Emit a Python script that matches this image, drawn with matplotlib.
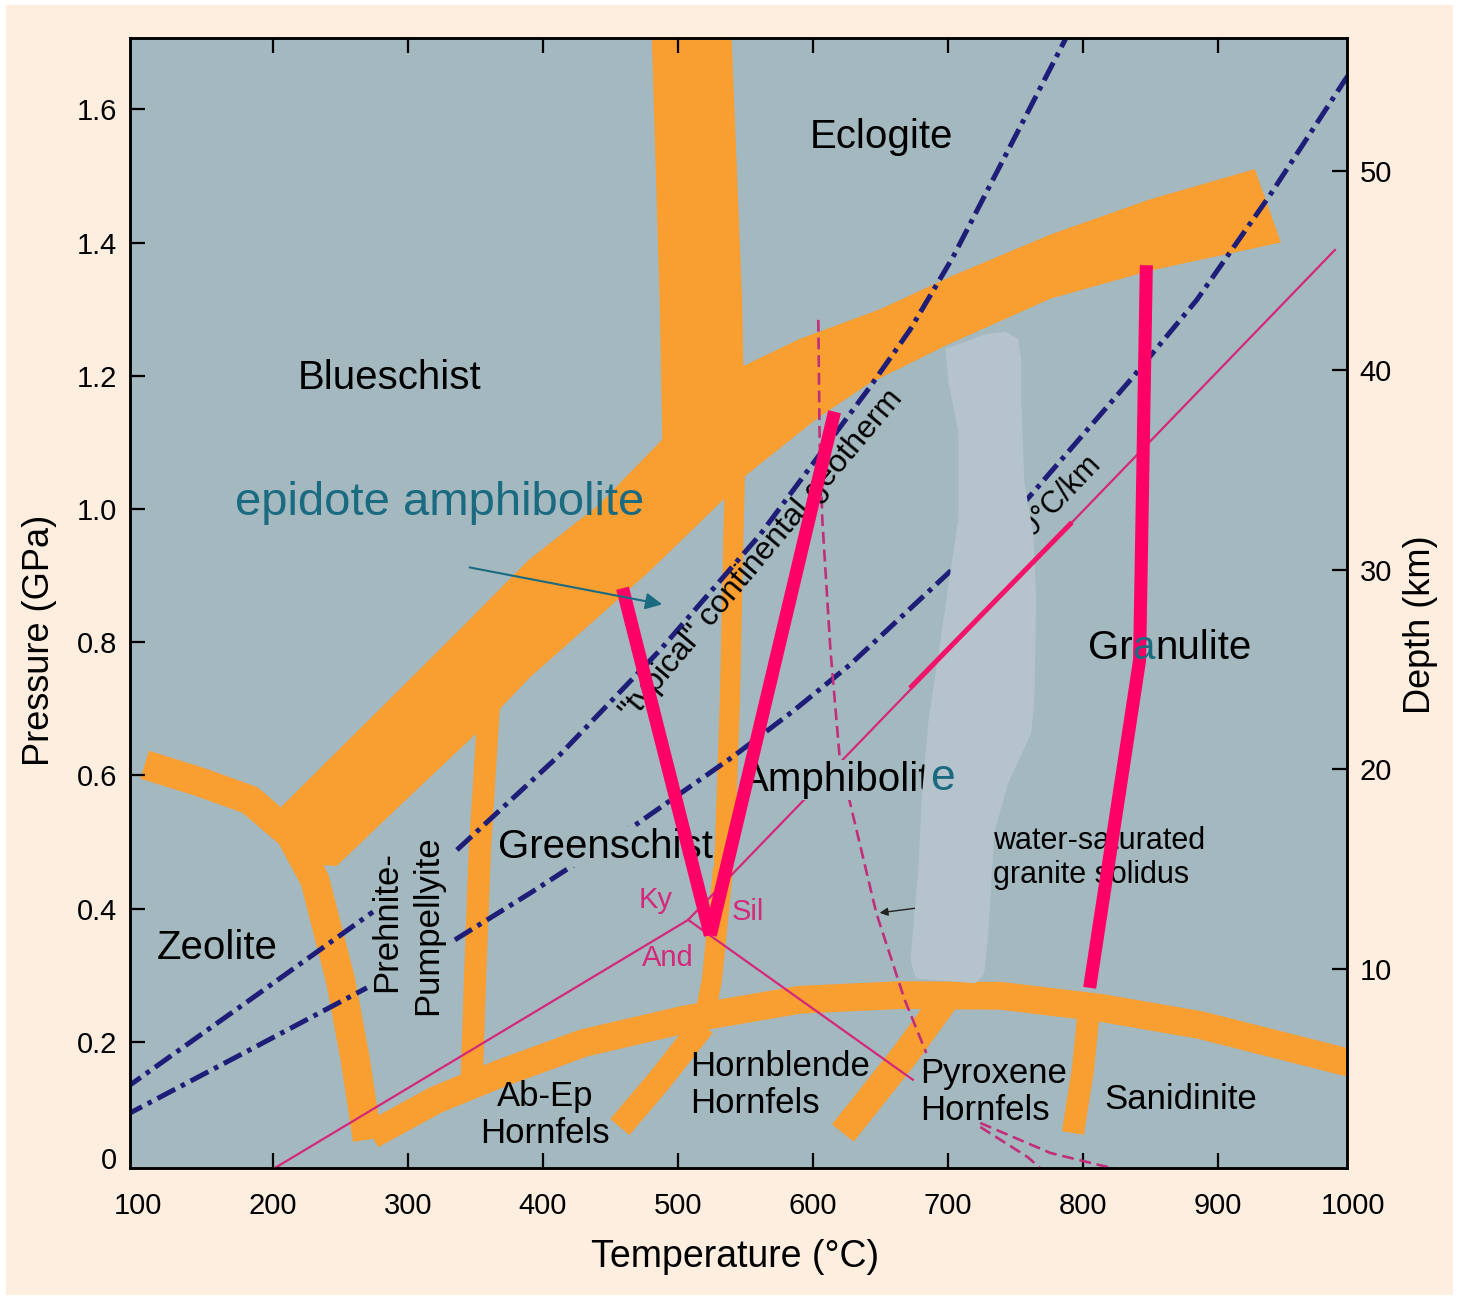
import matplotlib.pyplot as plt
from matplotlib.patches import Polygon, Rectangle
import numpy as np

plt.rcParams['font.family'] = ['Liberation Sans', 'DejaVu Sans']

bg = '#a4b8c0'
orange = '#f99e30'
navy = '#1e1e78'
pink = '#d4287a'
hot = '#ff0066'
teal = '#1b6b80'
haze = '#b5c3cc'

# ---- facies boundary bands (T in C, P in GPa) ----
# big blueschist / eclogite band, outline
main_T = [207, 294, 341, 390, 442, 489, 487, 481, 539, 547, 548, 590, 650, 701, 776, 850, 927,
          946, 850, 776, 701, 641, 603, 548, 533, 479, 442, 390, 351, 294, 247, 222]
main_P = [0.553, 0.728, 0.823, 0.923, 1.006, 1.104, 1.314, 1.72, 1.72, 1.314, 1.213, 1.254, 1.299,
          1.347, 1.411, 1.464, 1.509, 1.401, 1.359, 1.317, 1.249, 1.189, 1.137, 1.048, 1.014,
          0.908, 0.841, 0.748, 0.665, 0.556, 0.465, 0.468]

zeo_T = [105, 146, 183, 213, 231, 250, 261, 270]
zeo_P = [0.616, 0.590, 0.563, 0.511, 0.443, 0.293, 0.173, 0.053]

horn_T = [273, 321, 368, 430, 504, 590, 664, 739, 813, 887, 994, 1012]
horn_P = [0.060, 0.113, 0.152, 0.198, 0.233, 0.263, 0.270, 0.269, 0.251, 0.225, 0.170, 0.161]

pp_T = [360.7, 353.3, 349.6, 347.4]
pp_P = [0.728, 0.488, 0.288, 0.150]

gs_T = [542.2, 538.5, 534.8, 525.2, 518.5]
gs_P = [1.059, 0.713, 0.488, 0.293, 0.225]

abep_T = [518.5, 486.7, 457.0]
abep_P = [0.225, 0.143, 0.072]

hbl_T = [697.8, 668.1, 622.2]
hbl_P = [0.263, 0.180, 0.063]

px_T = [805.2, 800.0, 792.6]
px_P = [0.263, 0.158, 0.063]

# ---- geotherms ----
geoA_T1 = [90, 94.1, 183.0, 274.1]
geoA_P1 = [0.129, 0.135, 0.263, 0.395]
geoA_T2 = [336.3, 412.6, 486.7, 560.7, 642.2, 671.9, 703.7, 786.7, 790.4]
geoA_P2 = [0.488, 0.631, 0.788, 0.961, 1.183, 1.269, 1.378, 1.704, 1.727]

geoB_T1 = [90, 94.1, 183.0, 269.6]
geoB_P1 = [0.088, 0.093, 0.188, 0.281]
geoB_T2 = [334.8, 390.4, 466.7, 540.7, 585.0, 627.4, 701.5, 758.5, 837.0, 884.4, 938.5, 994.1, 1002]
geoB_P2 = [0.353, 0.423, 0.523, 0.628, 0.696, 0.766, 0.906, 1.014, 1.198, 1.314, 1.471, 1.644, 1.667]

# ---- Al2SiO5 triple point ----
ky_sil_T = [507.6, 986.7]
ky_sil_P = [0.383, 1.389]
ky_and_T = [507.6, 201.5]
ky_and_P = [0.383, 0.0105]
and_sil_T = [507.6, 674.0]
and_sil_P = [0.383, 0.143]

# water-saturated granite solidus
sol_T1 = [604, 605, 607, 613, 620, 627, 647, 668, 684]
sol_P1 = [1.284, 1.104, 0.983, 0.788, 0.623, 0.563, 0.393, 0.263, 0.183]
sol_T2 = [724, 759, 768]
sol_P2 = [0.072, 0.027, 0.011]
sol_T3 = [724, 776, 820]
sol_P3 = [0.078, 0.033, 0.011]

# hand-drawn marks
vee_left_T, vee_left_P = [459, 524], [0.881, 0.360]
vee_right_T, vee_right_P = [524, 616], [0.360, 1.146]
gran_T, gran_P = [847, 842, 805], [1.366, 0.773, 0.281]
kysil_hi_T, kysil_hi_P = [671.9, 791.9], [0.731, 0.980]

haze_T = [699.3, 708.9, 727.4, 742.2, 751.1, 753.3, 753.3, 755.6, 762.2, 764.4, 763.0, 760.7,
          743.7, 733.3, 728.9, 725.9, 720.0, 677.0, 673.3, 679.3, 681.5, 686.7, 696.3, 708.9,
          708.9, 701.5]
haze_P = [1.239, 1.246, 1.260, 1.264, 1.254, 1.224, 1.164, 1.039, 0.964, 0.863, 0.713, 0.664,
          0.589, 0.514, 0.363, 0.303, 0.290, 0.297, 0.323, 0.462, 0.563, 0.683, 0.814, 0.988,
          1.114, 1.189]

x_ticks = [200, 300, 400, 500, 600, 700, 800, 900]
p_ticks = [0.2, 0.4, 0.6, 0.8, 1.0, 1.2, 1.4, 1.6]
p_labels = ['0.2', '0.4', '0.6', '0.8', '1.0', '1.2', '1.4', '1.6']
depth_ticks = [10, 20, 30, 40, 50]

fig = plt.figure(figsize=(14.62, 12.97), dpi=100)
fig.patch.set_facecolor('white')
fig.patches.append(Rectangle((0.004, 0.0015), 0.99, 0.9946, transform=fig.transFigure,
                             facecolor='#fdeee0', edgecolor='none', zorder=-10))

ax = fig.add_axes([0.0889, 0.0995, 0.8324, 0.8712])
ax.set_facecolor(bg)
ax.set_xlim(94.1, 995.6)
ax.set_ylim(0.0105, 1.7072)

# bands
ax.add_patch(Polygon(np.column_stack([main_T, main_P]), closed=True, fc=orange, ec=orange,
                     lw=1, zorder=1))


def band(T, P, w):
    ax.plot(T, P, color=orange, lw=w, solid_capstyle='butt', solid_joinstyle='round', zorder=1)


band(zeo_T, zeo_P, 21)
band(horn_T, horn_P, 20)
band(pp_T, pp_P, 16)
band(gs_T, gs_P, 14.5)
band(abep_T, abep_P, 18)
band(hbl_T, hbl_P, 20)
band(px_T, px_P, 16)

# geotherms
dd = (4, 1.3, 0.9, 1.3)
for T, P in [(geoA_T1, geoA_P1), (geoA_T2, geoA_P2), (geoB_T1, geoB_P1), (geoB_T2, geoB_P2)]:
    ax.plot(T, P, color=navy, lw=3.6, dashes=dd, zorder=3)

# aluminosilicate lines
for T, P in [(ky_sil_T, ky_sil_P), (ky_and_T, ky_and_P), (and_sil_T, and_sil_P)]:
    ax.plot(T, P, color=pink, lw=1.6, zorder=3)

for T, P in [(sol_T1, sol_P1), (sol_T2, sol_P2), (sol_T3, sol_P3)]:
    ax.plot(T, P, color='#c0307a', lw=1.9, dashes=(4.5, 2.2), zorder=3)

# labels
big = 29
mid = 25
ax.text(651, 1.559, 'Eclogite', fontsize=big, ha='center', va='center', zorder=4)
ax.text(286.7, 1.197, 'Blueschist', fontsize=big, ha='center', va='center', zorder=4)
ax.text(159, 0.341, 'Zeolite', fontsize=big, ha='center', va='center', zorder=4)
ax.text(446, 0.492, 'Greenschist', fontsize=big, ha='center', va='center', zorder=4,
        bbox=dict(boxstyle='square,pad=0.03', fc=bg, ec='none'))
t_amph = ax.text(547.4, 0.593, 'Amphibolit', fontsize=big, ha='left', va='center', zorder=4,
                 bbox=dict(boxstyle='square,pad=0.03', fc=bg, ec='none'))
t_gr = ax.text(803.7, 0.791, 'Gr', fontsize=big, ha='left', va='center', zorder=4)
t_a = ax.annotate('a', xy=(1, 0), xycoords=t_gr, ha='left', va='bottom', fontsize=big,
                  color=teal, zorder=8)
ax.annotate('nulite', xy=(1, 0), xycoords=t_a, ha='left', va='bottom', fontsize=big, zorder=4)

ax.text(284.4, 0.380, 'Prehnite-', fontsize=mid, rotation=90, ha='center', va='center', zorder=4)
ax.text(314.8, 0.375, 'Pumpellyite', fontsize=mid, rotation=90, ha='center', va='center', zorder=4)
ax.text(401.5, 0.090, 'Ab-Ep\nHornfels', fontsize=mid, ha='center', va='center',
        multialignment='center', linespacing=1.15, zorder=4)
ax.text(508.9, 0.135, 'Hornblende\nHornfels', fontsize=mid, ha='left', va='center',
        linespacing=1.15, zorder=4)
ax.text(679.3, 0.125, 'Pyroxene\nHornfels', fontsize=mid, ha='left', va='center',
        linespacing=1.15, zorder=4)
ax.text(872.6, 0.113, 'Sanidinite', fontsize=mid, ha='center', va='center', zorder=4)
ax.text(733.3, 0.476, 'water-saturated\ngranite solidus', fontsize=22, ha='left', va='center',
        linespacing=1.18, zorder=4)

ax.text(483.7, 0.413, 'Ky', fontsize=21, color=pink, ha='center', va='center', zorder=4)
ax.text(551.9, 0.395, 'Sil', fontsize=21, color=pink, ha='center', va='center', zorder=4)
ax.text(492.6, 0.326, 'And', fontsize=21, color=pink, ha='center', va='center', zorder=4)

ax.text(562.6, 0.931, '"typical" continental geotherm', fontsize=23, rotation=50,
        rotation_mode='anchor', ha='center', va='center', zorder=4)
ax.text(779.3, 1.011, '20°C/km', fontsize=22, rotation=46, rotation_mode='anchor',
        ha='center', va='center', zorder=4)

ax.annotate('', xy=(647.4, 0.393), xytext=(677.8, 0.401),
            arrowprops=dict(arrowstyle='-|>', color='#222222', lw=1, mutation_scale=12), zorder=4)

# overlay marks
ax.add_patch(Polygon(np.column_stack([haze_T, haze_P]), closed=True, fc=haze, ec=haze, lw=2,
                     joinstyle='round', zorder=5))
ax.plot(kysil_hi_T, kysil_hi_P, color='#f21468', lw=3.6, solid_capstyle='butt', zorder=6)
for T, P in [(vee_left_T, vee_left_P), (vee_right_T, vee_right_P)]:
    ax.plot(T, P, color=hot, lw=9.4, solid_capstyle='butt', zorder=6)
ax.plot(gran_T, gran_P, color=hot, lw=9.4, solid_capstyle='butt', solid_joinstyle='round',
        zorder=6)

ax.annotate('e', xy=(1, 0), xycoords=t_amph, ha='left', va='bottom', fontsize=32, color=teal,
            zorder=8)
ax.text(323.7, 1.009, 'epidote amphibolite', fontsize=34, color=teal, ha='center', va='center',
        zorder=8)
ax.annotate('', xy=(490.4, 0.856), xytext=(343.7, 0.913),
            arrowprops=dict(arrowstyle='-|>', color=teal, lw=1.5, mutation_scale=25), zorder=8)

# axes
ax.set_xticks(x_ticks)
ax.set_yticks(p_ticks)
ax.set_yticklabels(p_labels)
ax.tick_params(direction='in', length=11, width=1.6, labelsize=21)
ax.tick_params(axis='x', top=True, pad=17)
ax.tick_params(axis='y', pad=9)
for s in ax.spines.values():
    s.set_linewidth(1.8)

ax.annotate('100', xy=(100, 0), xycoords=('data', 'axes fraction'), xytext=(0, -17),
            textcoords='offset points', ha='center', va='top', fontsize=21, annotation_clip=False)
ax.annotate('1000', xy=(1000, 0), xycoords=('data', 'axes fraction'), xytext=(0, -17),
            textcoords='offset points', ha='center', va='top', fontsize=21, annotation_clip=False)
ax.annotate('0', xy=(0, 0.0255), xycoords=('axes fraction', 'data'), xytext=(-9, 0),
            textcoords='offset points', ha='right', va='center_baseline', fontsize=21,
            annotation_clip=False)

ax2 = ax.twinx()
ax2.set_ylim(0, 56.67)
ax2.set_yticks(depth_ticks)
ax2.tick_params(direction='in', length=11, width=1.6, labelsize=21, pad=9)
for s in ax2.spines.values():
    s.set_linewidth(1.8)

fig.text(40 / 1462, 1 - 640 / 1297, 'Pressure (GPa)', rotation=90, fontsize=26,
         ha='center', va='center')
fig.text(1420 / 1462, 1 - 625 / 1297, 'Depth (km)', rotation=90, fontsize=26,
         ha='center', va='center')
fig.text(735 / 1462, 1 - 1257 / 1297, 'Temperature (°C)', fontsize=27, ha='center', va='center')

fig.savefig('out.png', dpi=100, facecolor=fig.get_facecolor())
